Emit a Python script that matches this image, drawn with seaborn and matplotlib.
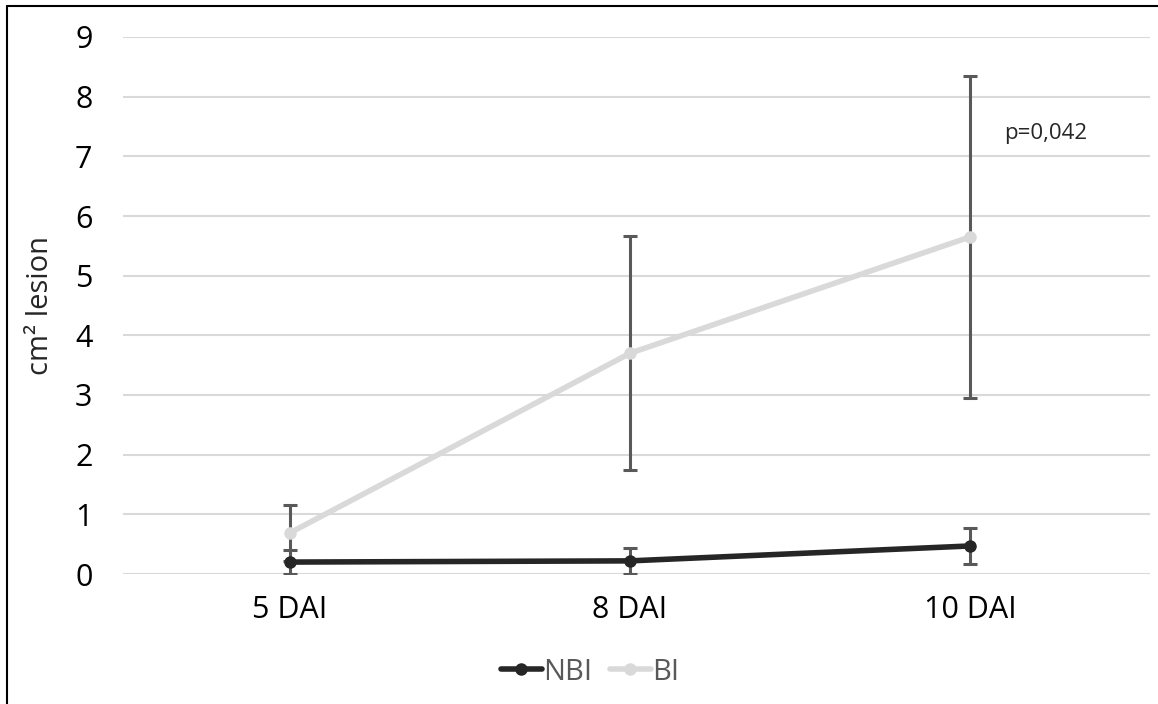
import pandas as pd
import numpy as np
import matplotlib
matplotlib.use("Agg")
import matplotlib.pyplot as plt
import seaborn as sns
from matplotlib.lines import Line2D

# data
days = ["5 DAI", "8 DAI", "10 DAI"]
nbi = [0.20, 0.22, 0.47]
nbi_err = [0.20, 0.22, 0.30]
bi = [0.69, 3.70, 5.65]
bi_err = [0.47, 1.96, 2.70]
series = ["NBI", "BI"]
colors = {"NBI": "#262626", "BI": "#d9d9d9"}

df = pd.DataFrame({
    "day": days * 2,
    "value": nbi + bi,
    "group": ["NBI"] * 3 + ["BI"] * 3,
})

sns.set_theme(style="white")
plt.rcParams['font.family'] = ['Open Sans', 'DejaVu Sans']

fig = plt.figure(figsize=(11.58, 7.04), dpi=100)
ax = fig.add_axes([123 / 1158, 1 - 574 / 704, 1027 / 1158, 537 / 704])

# error bars first so lines sit on top
for vals, errs in [(nbi, nbi_err), (bi, bi_err)]:
    ax.errorbar(days, vals, yerr=errs, fmt="none", ecolor="#595959",
                elinewidth=2.2, capsize=5, capthick=2.2, zorder=2)

sns.lineplot(data=df, x="day", y="value", hue="group", hue_order=series,
             palette=colors, marker="o", markersize=9, markeredgewidth=0,
             linewidth=4, sort=False, ax=ax, zorder=3, legend=False)

ax.set_xlim(-0.491, 2.529)
ax.set_ylim(0, 9)
ax.set_yticks(range(0, 10))
ax.yaxis.grid(True, color="#d9d9d9", linewidth=1.5)
ax.set_axisbelow(True)
for s in ax.spines.values():
    s.set_visible(False)
ax.tick_params(axis="y", length=0, pad=22, labelsize=22, labelcolor="#000000")
ax.tick_params(axis="x", length=0, pad=15, labelsize=22, labelcolor="#000000")
ax.set_xlabel("")
ax.set_ylabel("cm² lesion", fontsize=21, labelpad=14)

ax.text(2.1, 7.39, "p=0,042", fontsize=16, va="center", ha="left")

handles = [Line2D([], [], color=colors[s], marker="o", markersize=9,
                  markeredgewidth=0, linewidth=4) for s in series]
fig.legend(handles, series, loc="center", bbox_to_anchor=(590 / 1158, 1 - 672 / 704),
           ncol=2, frameon=False, fontsize=21, handlelength=1.4,
           handletextpad=0.05, columnspacing=0.6, labelcolor="#595959")

# frame on left and top edges
fig.add_artist(Line2D([7 / 1158, 7 / 1158], [0, 1 - 6 / 704], color="black", linewidth=1.5))
fig.add_artist(Line2D([7 / 1158, 1], [1 - 6 / 704, 1 - 6 / 704], color="black", linewidth=1.5))

fig.savefig("out.png", dpi=100)
